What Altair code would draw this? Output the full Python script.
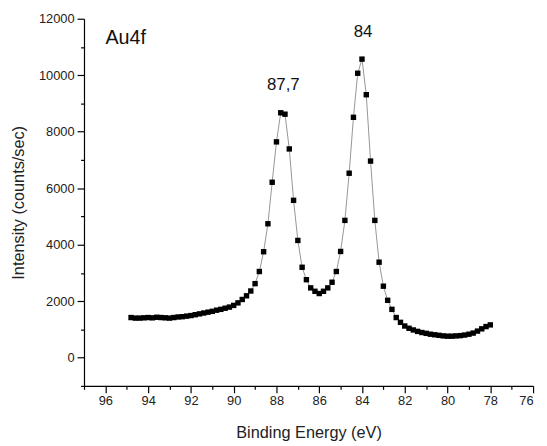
import altair as alt
import pandas as pd

# Binding energy (eV) and intensity (counts/sec)
energy = [94.8, 94.6, 94.4, 94.2, 94.0, 93.8, 93.6, 93.4, 93.2, 93.0,
          92.8, 92.6, 92.4, 92.2, 92.0, 91.8, 91.6, 91.4, 91.2, 91.0,
          90.8, 90.6, 90.4, 90.2, 90.0, 89.8, 89.6, 89.4, 89.2, 89.0,
          88.8, 88.6, 88.4, 88.2, 88.0, 87.8, 87.6, 87.4, 87.2, 87.0,
          86.8, 86.6, 86.4, 86.2, 86.0, 85.8, 85.6, 85.4, 85.2, 85.0,
          84.8, 84.6, 84.4, 84.2, 84.0, 83.8, 83.6, 83.4, 83.2, 83.0,
          82.8, 82.6, 82.4, 82.2, 82.0, 81.8, 81.6, 81.4, 81.2, 81.0,
          80.8, 80.6, 80.4, 80.2, 80.0, 79.8, 79.6, 79.4, 79.2, 79.0,
          78.8, 78.6, 78.4, 78.2, 78.0]
intensity = [1420, 1400, 1400, 1410, 1420, 1410, 1430, 1420, 1410, 1400,
             1420, 1440, 1450, 1470, 1490, 1520, 1550, 1580, 1610, 1640,
             1680, 1710, 1750, 1790, 1850, 1940, 2060, 2190, 2360, 2620,
             3050, 3750, 4740, 6210, 7640, 8670, 8620, 7390, 5570, 4150,
             3200, 2760, 2470, 2350, 2270, 2350, 2470, 2670, 3050, 3760,
             4860, 6530, 8510, 10070, 10570, 9310, 6960, 4860, 3380, 2530,
             2030, 1710, 1420, 1250, 1120, 1040, 980, 930, 890, 860,
             830, 810, 790, 770, 760, 760, 770, 780, 800, 830,
             870, 940, 1020, 1100, 1160]

x_major = [96, 94, 92, 90, 88, 86, 84, 82, 80, 78, 76]
x_minor = [97, 95, 93, 91, 89, 87, 85, 83, 81, 79, 77]
y_major = [0, 2000, 4000, 6000, 8000, 10000, 12000]
y_minor = [-1000, 1000, 3000, 5000, 7000, 9000, 11000]

peak_labels = ["84", "87,7"]
peak_x = [83.95, 87.68]
peak_y = [11530, 9640]

title_label = ["Au4f"]
title_x = [96.0]
title_y = [11330]

FONT = "Liberation Sans"

df = pd.DataFrame({"E": energy, "I": intensity})
peaks = pd.DataFrame({"t": peak_labels, "E": peak_x, "I": peak_y})
ttl = pd.DataFrame({"t": title_label, "E": title_x, "I": title_y})

xs = alt.Scale(domain=[76, 97], reverse=True, nice=False, zero=False)
ys = alt.Scale(domain=[-1000, 12000], nice=False, zero=False)

x_axis = alt.Axis(values=x_major, orient="bottom", title="Binding Energy (eV)",
                  tickSize=7, labelPadding=2, titleFontSize=16.5,
                  titleFont=FONT, titleFontWeight="normal",
                  titleBaseline="middle", titleY=47, format="d")
y_axis = alt.Axis(values=y_major, orient="left", title="Intensity (counts/sec)",
                  tickSize=7, labelPadding=3, titleFontSize=16.5,
                  titleFont=FONT, titleFontWeight="normal",
                  titleAngle=270, titleAlign="center", titleBaseline="middle",
                  titleX=-66, titleY=186, format="d")

line = alt.Chart(df).mark_line(color="#8a8a8a", strokeWidth=0.9).encode(
    x=alt.X("E:Q", scale=xs, axis=x_axis),
    y=alt.Y("I:Q", scale=ys, axis=y_axis),
)

pts = alt.Chart(df).mark_square(size=30, color="black", opacity=1).encode(
    x=alt.X("E:Q", scale=xs, axis=alt.Axis(values=x_minor, orient="bottom",
                                            labels=False, tickSize=3.5,
                                            domain=False, title=None)),
    y=alt.Y("I:Q", scale=ys, axis=alt.Axis(values=y_minor, orient="left",
                                            labels=False, tickSize=3.5,
                                            domain=False, title=None)),
)

ptxt = alt.Chart(peaks).mark_text(font=FONT, fontSize=17, color="#111",
                                  align="center", baseline="middle").encode(
    x=alt.X("E:Q", scale=xs, axis=None),
    y=alt.Y("I:Q", scale=ys, axis=None),
    text="t:N",
)

ttxt = alt.Chart(ttl).mark_text(font=FONT, fontSize=20, color="#111",
                                align="left", baseline="middle").encode(
    x=alt.X("E:Q", scale=xs, axis=None),
    y=alt.Y("I:Q", scale=ys, axis=None),
    text="t:N",
)

chart = alt.layer(line, pts, ptxt, ttxt).resolve_axis(
    x="independent", y="independent"
).properties(
    width=455, height=372,
    autosize=alt.AutoSizeParams(type="none"),
    padding={"left": 77, "top": 8, "right": 6, "bottom": 56},
).configure_view(stroke=None).configure_axis(
    grid=False, domainColor="black", domainWidth=1.2,
    tickColor="black", tickWidth=1.2,
    labelFont=FONT, labelFontSize=13, labelColor="#222",
    titleColor="#222",
)

chart.save("out.html", embed_options={"renderer": "svg", "actions": False})
